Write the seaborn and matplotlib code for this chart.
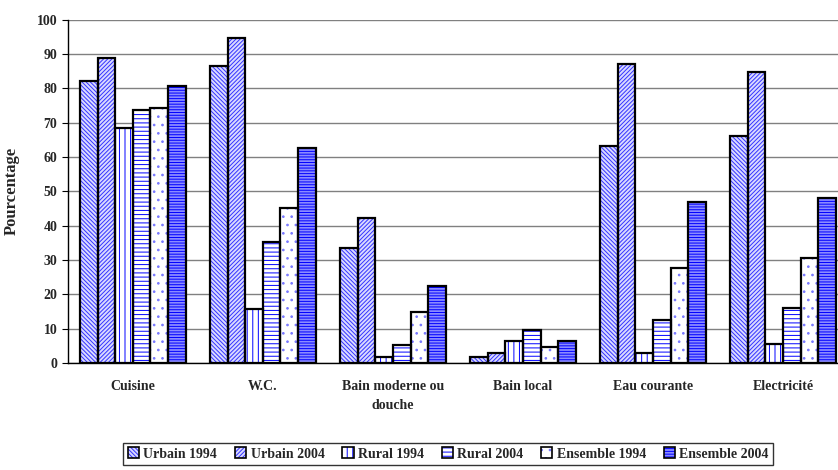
import matplotlib
matplotlib.use("Agg")
import numpy as np
import pandas as pd
import matplotlib.pyplot as plt
import seaborn as sns
from matplotlib.patches import Rectangle, Patch
from matplotlib.legend_handler import HandlerTuple

# categories et series (en %)
categories = ["Cuisine", "W.C.", "Bain moderne ou\ndouche", "Bain local", "Eau courante", "Electricité"]
series = ["Urbain 1994", "Urbain 2004", "Rural 1994", "Rural 2004", "Ensemble 1994", "Ensemble 2004"]
urbain_1994 = [82.0, 86.5, 33.5, 1.8, 63.2, 66.0]
urbain_2004 = [88.8, 94.7, 42.3, 3.0, 87.0, 84.9]
rural_1994 = [68.4, 15.8, 1.8, 6.5, 3.0, 5.5]
rural_2004 = [73.8, 35.3, 5.3, 9.5, 12.5, 16.0]
ensemble_1994 = [74.3, 45.0, 14.7, 4.5, 27.5, 30.5]
ensemble_2004 = [80.6, 62.5, 22.3, 6.5, 46.8, 48.1]

values = [urbain_1994, urbain_2004, rural_1994, rural_2004, ensemble_1994, ensemble_2004]
rows = []
for s, vals in zip(series, values):
    for c, v in zip(categories, vals):
        rows.append({"categorie": c, "serie": s, "valeur": v})
df = pd.DataFrame(rows)

faces = ["#d9d9ff", "#d9d9ff", "#ffffff", "#ffffff", "#ffffff", "#8c8cff"]
hatches = ["\\\\\\\\\\\\\\\\", "////////", "|||", "----", "..", "------"]
hatch_cols = ["#3333ff", "#3333ff", "#0000ff", "#0000ff", "#7777ff", "#0000ff"]

sns.set_style("white")
plt.rcParams["font.family"] = ["Liberation Serif", "DejaVu Serif"]
plt.rcParams["font.weight"] = "bold"
plt.rcParams["hatch.linewidth"] = 0.7

fig = plt.figure(figsize=(8.38, 4.7), dpi=100)
ax = fig.add_axes([0.081, 0.228, 0.931, 0.73])

sns.barplot(data=df, x="categorie", y="valeur", hue="serie", palette=faces,
            saturation=1, width=0.81, linewidth=0, ax=ax)

# motifs bleus (couleur du motif = couleur du bord) + contour noir par-dessus
for cont, h, hc in zip(ax.containers, hatches, hatch_cols):
    for bar in cont:
        bar.set_hatch(h)
        bar.set_edgecolor(hc)
        bar.set_linewidth(0)
        ax.add_patch(Rectangle(bar.get_xy(), bar.get_width(), bar.get_height(),
                               fill=False, edgecolor="black", linewidth=1.6, zorder=3))

ax.set_ylim(0, 100)
ax.set_xlim(-0.5, 5.5)
ax.set_yticks(np.arange(0, 101, 10))
ax.yaxis.grid(True, color="#808080", lw=1)
ax.set_axisbelow(True)

ax.set_xticks(range(len(categories)))
ax.set_xticklabels(categories, fontsize=10, fontweight="bold", linespacing=1.6)
ax.set_xticks(np.arange(-0.5, 6, 1), minor=True)
ax.tick_params(axis="x", which="major", length=0, pad=12)
ax.tick_params(axis="x", which="minor", length=4, direction="out", color="black")
ax.tick_params(axis="y", length=4, direction="out", color="black", labelsize=10, left=True)
for lab in ax.get_yticklabels():
    lab.set_fontweight("bold")

ax.set_xlabel("")
ax.set_ylabel("Pourcentage", fontsize=12, fontweight="bold", labelpad=12)

for side in ["top", "right"]:
    ax.spines[side].set_visible(False)
for side in ["left", "bottom"]:
    ax.spines[side].set_color("black")
    ax.spines[side].set_linewidth(1)

ax.get_legend().remove()
handles = []
for f, h, hc in zip(faces, hatches, hatch_cols):
    handles.append((Patch(facecolor=f, edgecolor=hc, hatch=h, linewidth=0),
                    Patch(fill=False, edgecolor="black", linewidth=1.2)))
leg = fig.legend(handles, series, loc="lower center",
                 bbox_to_anchor=(0.535, -0.005), ncol=6, fontsize=10, frameon=True,
                 fancybox=False, edgecolor="black", handlelength=0.8, handleheight=0.8,
                 handletextpad=0.3, columnspacing=1.3, borderpad=0.35,
                 handler_map={tuple: HandlerTuple(ndivide=1, pad=0)})
leg.get_frame().set_linewidth(1)

fig.savefig("out.png", dpi=100)
